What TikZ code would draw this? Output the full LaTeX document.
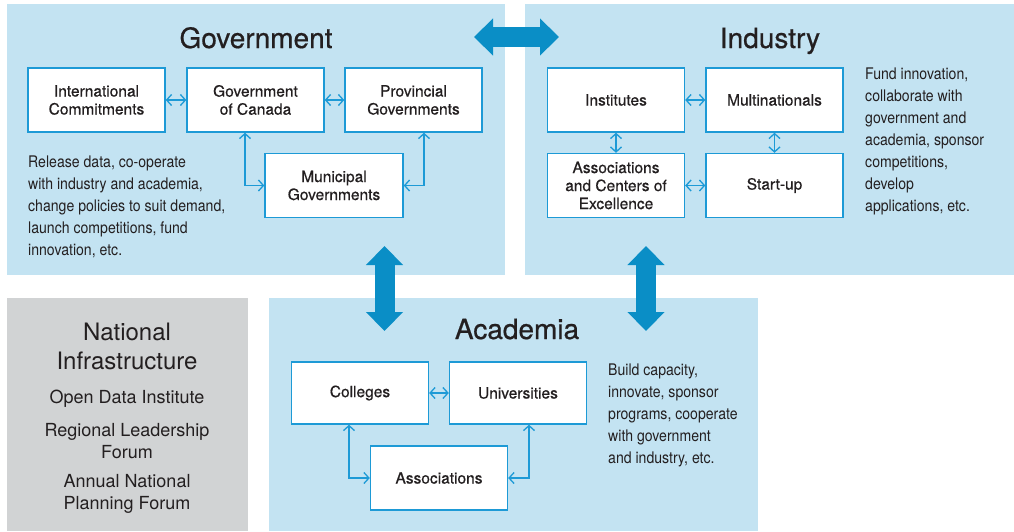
\documentclass[tikz,border=0pt]{standalone}
\usepackage{fontspec}
\setmainfont{TeX Gyre Heros}
\newfontfamily\condfont[FakeStretch=0.88]{TeX Gyre Heros}
\newfontfamily\medfont[FakeBold=0.6]{TeX Gyre Heros}
\usepackage{tikz}
\usetikzlibrary{arrows.meta,positioning,calc}
\definecolor{panelblue}{HTML}{C3E3F2}
\definecolor{panelgray}{HTML}{D1D3D4}
\definecolor{lineblue}{HTML}{1D9AD6}
\definecolor{bigblue}{HTML}{0A8EC6}
\definecolor{textdark}{HTML}{231F20}
\tikzset{
  panel/.style={fill=panelblue, draw=none, anchor=north west, inner sep=0pt},
  unitbox/.style={draw=lineblue, line width=1.4pt, fill=white, minimum width=137pt, minimum height=64pt,
    align=center, text=textdark, font=\medfont\fontsize{15.5}{18}\selectfont},
  link/.style={lineblue, line width=1.3pt, {Straight Barb[length=5pt,width=11pt]}-{Straight Barb[length=5pt,width=11pt]}},
  bigarrow/.style={bigblue, line width=20pt, {Triangle[length=19pt,width=36pt]}-{Triangle[length=19pt,width=36pt]}},
  paneltitle/.style={text=textdark, anchor=base, font=\medfont\fontsize{28}{32}\selectfont},
  note/.style={text=textdark, anchor=north west, inner sep=0pt, align=left, font=\condfont\fontsize{16}{22}\selectfont},
}
\begin{document}
\begin{tikzpicture}[x=1pt,y=-1pt]
  \useasboundingbox (0,0) rectangle (1014,531);
  \fill[white] (0,0) rectangle (1014,531);
  % panels
  \node[panel, minimum width=498pt, minimum height=271pt] (gov) at (7,4) {};
  \node[panel, minimum width=489pt, minimum height=271pt] (ind) at (525,4) {};
  \node[panel, fill=panelgray, minimum width=241pt, minimum height=233pt] (nat) at (7,298) {};
  \node[panel, minimum width=489pt, minimum height=233pt] (acad) at (269,298) {};

  % government
  \node[paneltitle] (govtitle) at (256,48) {Government};
  \node[unitbox] (intl) at (96.5,100) {International\\Commitments};
  \node[unitbox] (canada) at (255.5,100) {Government\\of Canada};
  \node[unitbox] (prov) at (413.5,100) {Provincial\\Governments};
  \node[unitbox, minimum width=138pt] (muni) at (334,185.5) {Municipal\\Governments};
  \draw[link] (intl) -- (canada);
  \draw[link] (canada) -- (prov);
  \draw[link] ([xshift=-10.5pt]canada.south) |- (muni.west);
  \draw[link] ([xshift=10.5pt]prov.south) |- (muni.east);
  \node[note] (govnote) at (28,156) {Release data, co-operate\\with industry and academia,\\change policies to suit demand,\\launch competitions, fund\\innovation, etc.};

  % industry
  \node[paneltitle] (indtitle) at (770,48) {Industry};
  \node[unitbox] (inst) at (616,100) {Institutes};
  \node[unitbox] (multi) at (774.5,100) {Multinationals};
  \node[unitbox] (centers) at (616,185.5) {Associations\\and Centers of\\Excellence};
  \node[unitbox] (startup) at (774.5,185.5) {Start-up};
  \draw[link] (inst) -- (multi);
  \draw[link] (centers) -- (startup);
  \draw[link] (inst) -- (centers);
  \draw[link] (multi) -- (startup);
  \node[note] (indnote) at (865,68) {Fund innovation,\\collaborate with\\government and\\academia, sponsor\\competitions,\\develop\\applications, etc.};

  % academia
  \node[paneltitle] (acadtitle) at (517,339) {Academia};
  \node[unitbox, minimum height=62pt] (coll) at (360,393) {Colleges};
  \node[unitbox, minimum height=62pt] (univ) at (518,393) {Universities};
  \node[unitbox] (acassoc) at (439,478) {Associations};
  \draw[link] (coll) -- (univ);
  \draw[link] ([xshift=-11pt]coll.south) |- (acassoc.west);
  \draw[link] ([xshift=11pt]univ.south) |- (acassoc.east);
  \node[note] (acadnote) at (608,364) {Build capacity,\\innovate, sponsor\\programs, cooperate\\with government\\and industry, etc.};

  % national infrastructure
  \node[text=textdark, align=center, font=\fontsize{24}{29}\selectfont] (nattitle) at (127,346) {National\\Infrastructure};
  \node[text=textdark, font=\fontsize{18}{21.5}\selectfont] (odi) at (127,399) {Open Data Institute};
  \node[text=textdark, align=center, font=\fontsize{18}{21.5}\selectfont] (rlf) at (127,441) {Regional Leadership\\Forum};
  \node[text=textdark, align=center, font=\fontsize{18}{21.5}\selectfont] (anpf) at (127,494) {Annual National\\Planning Forum};

  % links between sectors
  \coordinate (govend) at (474,37);
  \coordinate (indend) at (559,37);
  \coordinate (govdown) at (384.5,246);
  \coordinate (acadup) at (384.5,331);
  \coordinate (inddown) at (646,246);
  \coordinate (acadup2) at (646,331);
  \draw[bigarrow] (govend) -- (indend);
  \draw[bigarrow] (govdown) -- (acadup);
  \draw[bigarrow] (inddown) -- (acadup2);
\end{tikzpicture}
\end{document}
